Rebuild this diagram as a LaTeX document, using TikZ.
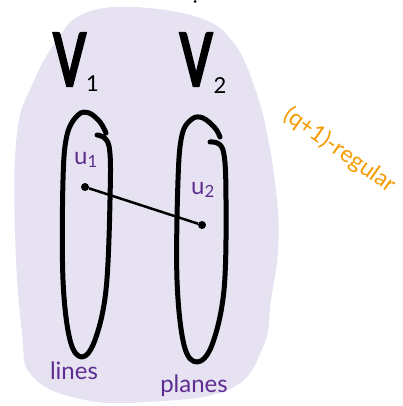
\documentclass[tikz,border=0pt]{standalone}
\usepackage{fontspec}
\setmainfont{Lato}
\newfontfamily\vfont[FakeBold=2.5]{Lato Bold}
\usepackage{graphicx}
\definecolor{blob}{HTML}{E6E2F2}
\definecolor{lbl}{HTML}{5E2D91}
\definecolor{orng}{HTML}{F59B00}
\tikzset{
  setring/.style={line width=5pt, line cap=round, line join=round, black},
  vlabel/.style={inner sep=0pt},
  plabel/.style={inner sep=0pt, text=lbl, font=\fontsize{24}{24}\selectfont},
  vdot/.style={circle, fill=black, inner sep=0pt, minimum size=8pt},
  edgeline/.style={line width=2.5pt, black}
}
\begin{document}
\begin{tikzpicture}[x=1pt,y=-1pt]
\useasboundingbox (0,0) rectangle (403,406);
% background blob
\fill[blob] plot[smooth cycle, tension=0.7] coordinates {
 (57,40) (83,14) (133,7) (200,18) (233,42) (253,83) (267,133) (277,200)
 (278,250) (271,300) (263,347) (230,389) (147,402) (80,399) (32,376)
 (22,333) (15,233) (17,133) (33,83)};
% tiny stroke fragment at top
\fill (195,1.5) circle (1.5pt);
% set outlines
\draw[setring] plot[smooth, tension=0.6] coordinates {
 (97,135) (109,146) (110,200) (106,290) (95,340) (82,357) (70,340)
 (63,280) (63,180) (67,135) (78,115) (89,113) (100,122) (106,133)};
\draw[setring] plot[smooth, tension=0.6] coordinates {
 (210,142) (223,150) (226,200) (224,290) (212,345) (197,362) (184,345)
 (177,280) (178,180) (182,135) (192,119) (203,118) (215,128) (220,137)};
% labels V1 V2
\node[vlabel] (V1) at (76,62) {{\vfont\fontsize{74}{74}\selectfont\scalebox{0.64}[1]{V}}{\fontsize{22}{22}\selectfont\raisebox{-5pt}{1}}};
\node[vlabel] (V2) at (203,63) {{\vfont\fontsize{74}{74}\selectfont\scalebox{0.64}[1]{V}}\hspace{1pt}{\fontsize{22}{22}\selectfont\raisebox{-7pt}{2}}};
% vertices
\node[vdot] (a) at (85,187) {};
\node[vdot] (b) at (202,225) {};
\draw[edgeline] (a) -- (b);
\node[plabel] (u1) at (86,160) {u\textsubscript{1}};
\node[plabel] (u2) at (203,190) {u\textsubscript{2}};
\node[plabel] (lines) at (74,371) {lines};
\node[plabel] (planes) at (194,386) {planes};
% orange annotation
\node[inner sep=0pt, text=orng, font=\fontsize{23}{23}\selectfont, rotate=-35] (reg) at (340,150) {(q+1)-regular};
\end{tikzpicture}
\end{document}
